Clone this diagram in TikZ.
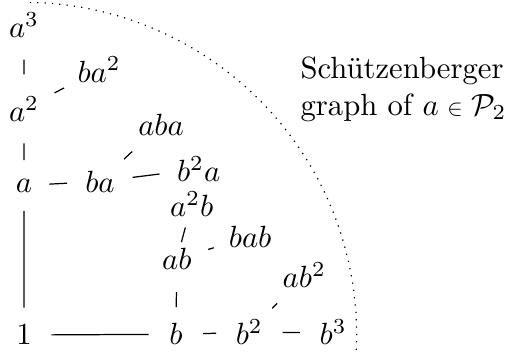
\documentclass[tikz,border=0pt]{standalone}
\usepackage{amsmath, amssymb}
\usepackage{graphicx}
\usepackage{tikz}
\usetikzlibrary{positioning}

\begin{document}
\begin{tikzpicture}[word/.style={circle, inner sep=3.3pt, anchor=base}]

  \useasboundingbox (-0.275,-0.092) rectangle (5.52,3.95);

  % --- Words of the Schützenberger graph ---
  \node[word] (one) at (0,0) {$1$};
  \node[word] (b)   at (1.74,0) {$b$};
  \node[word] (bb)  at (2.58,0) {$b^2$};
  \node[word] (bbb) at (3.54,0) {$b^3$};

  \node[word] (a)   at (0,1.75) {$a$};
  \node[word] (ba)  at (0.87,1.75) {$ba$};
  \node[word] (aa)  at (0,2.56) {$a^2$};
  \node[word] (aaa) at (0,3.52) {$a^3$};
  \node[word] (baa) at (0.86,3.01) {$ba^2$};

  \node[word] (aba) at (1.57,2.40) {$aba$};
  \node[word] (bba) at (2.00,1.87) {$b^2a$};
  \node[word] (aab) at (1.92,1.47) {$a^2b$};
  \node[word] (ab)  at (1.75,0.86) {$ab$};
  \node[word] (bab) at (2.59,1.12) {$bab$};
  \node[word] (abb) at (3.21,0.66) {$ab^2$};

  % Edges
  \draw (aaa) -- (aa) -- (a) -- (one) -- (b) -- (bb) -- (bbb);
  \draw (aa) -- (baa);
  \draw (a) -- (ba) -- (aba);
  \draw (ba) -- (bba);
  \draw (b) -- (ab) -- (aab);
  \draw (ab) -- (bab);
  \draw (bb) -- (abb);

  % Dotted quarter circle round the graph
  \draw[dotted] (one.center) ++(89:3.81) arc (89:-3:3.81);

  \node[anchor=west, align=left, inner sep=0pt] (title) at (3.16,2.93)
    {Schützenberger\\graph of $a \mathrel{\scalebox{0.75}{$\in$}} \mathcal{P}_2$};

\end{tikzpicture}
\end{document}
